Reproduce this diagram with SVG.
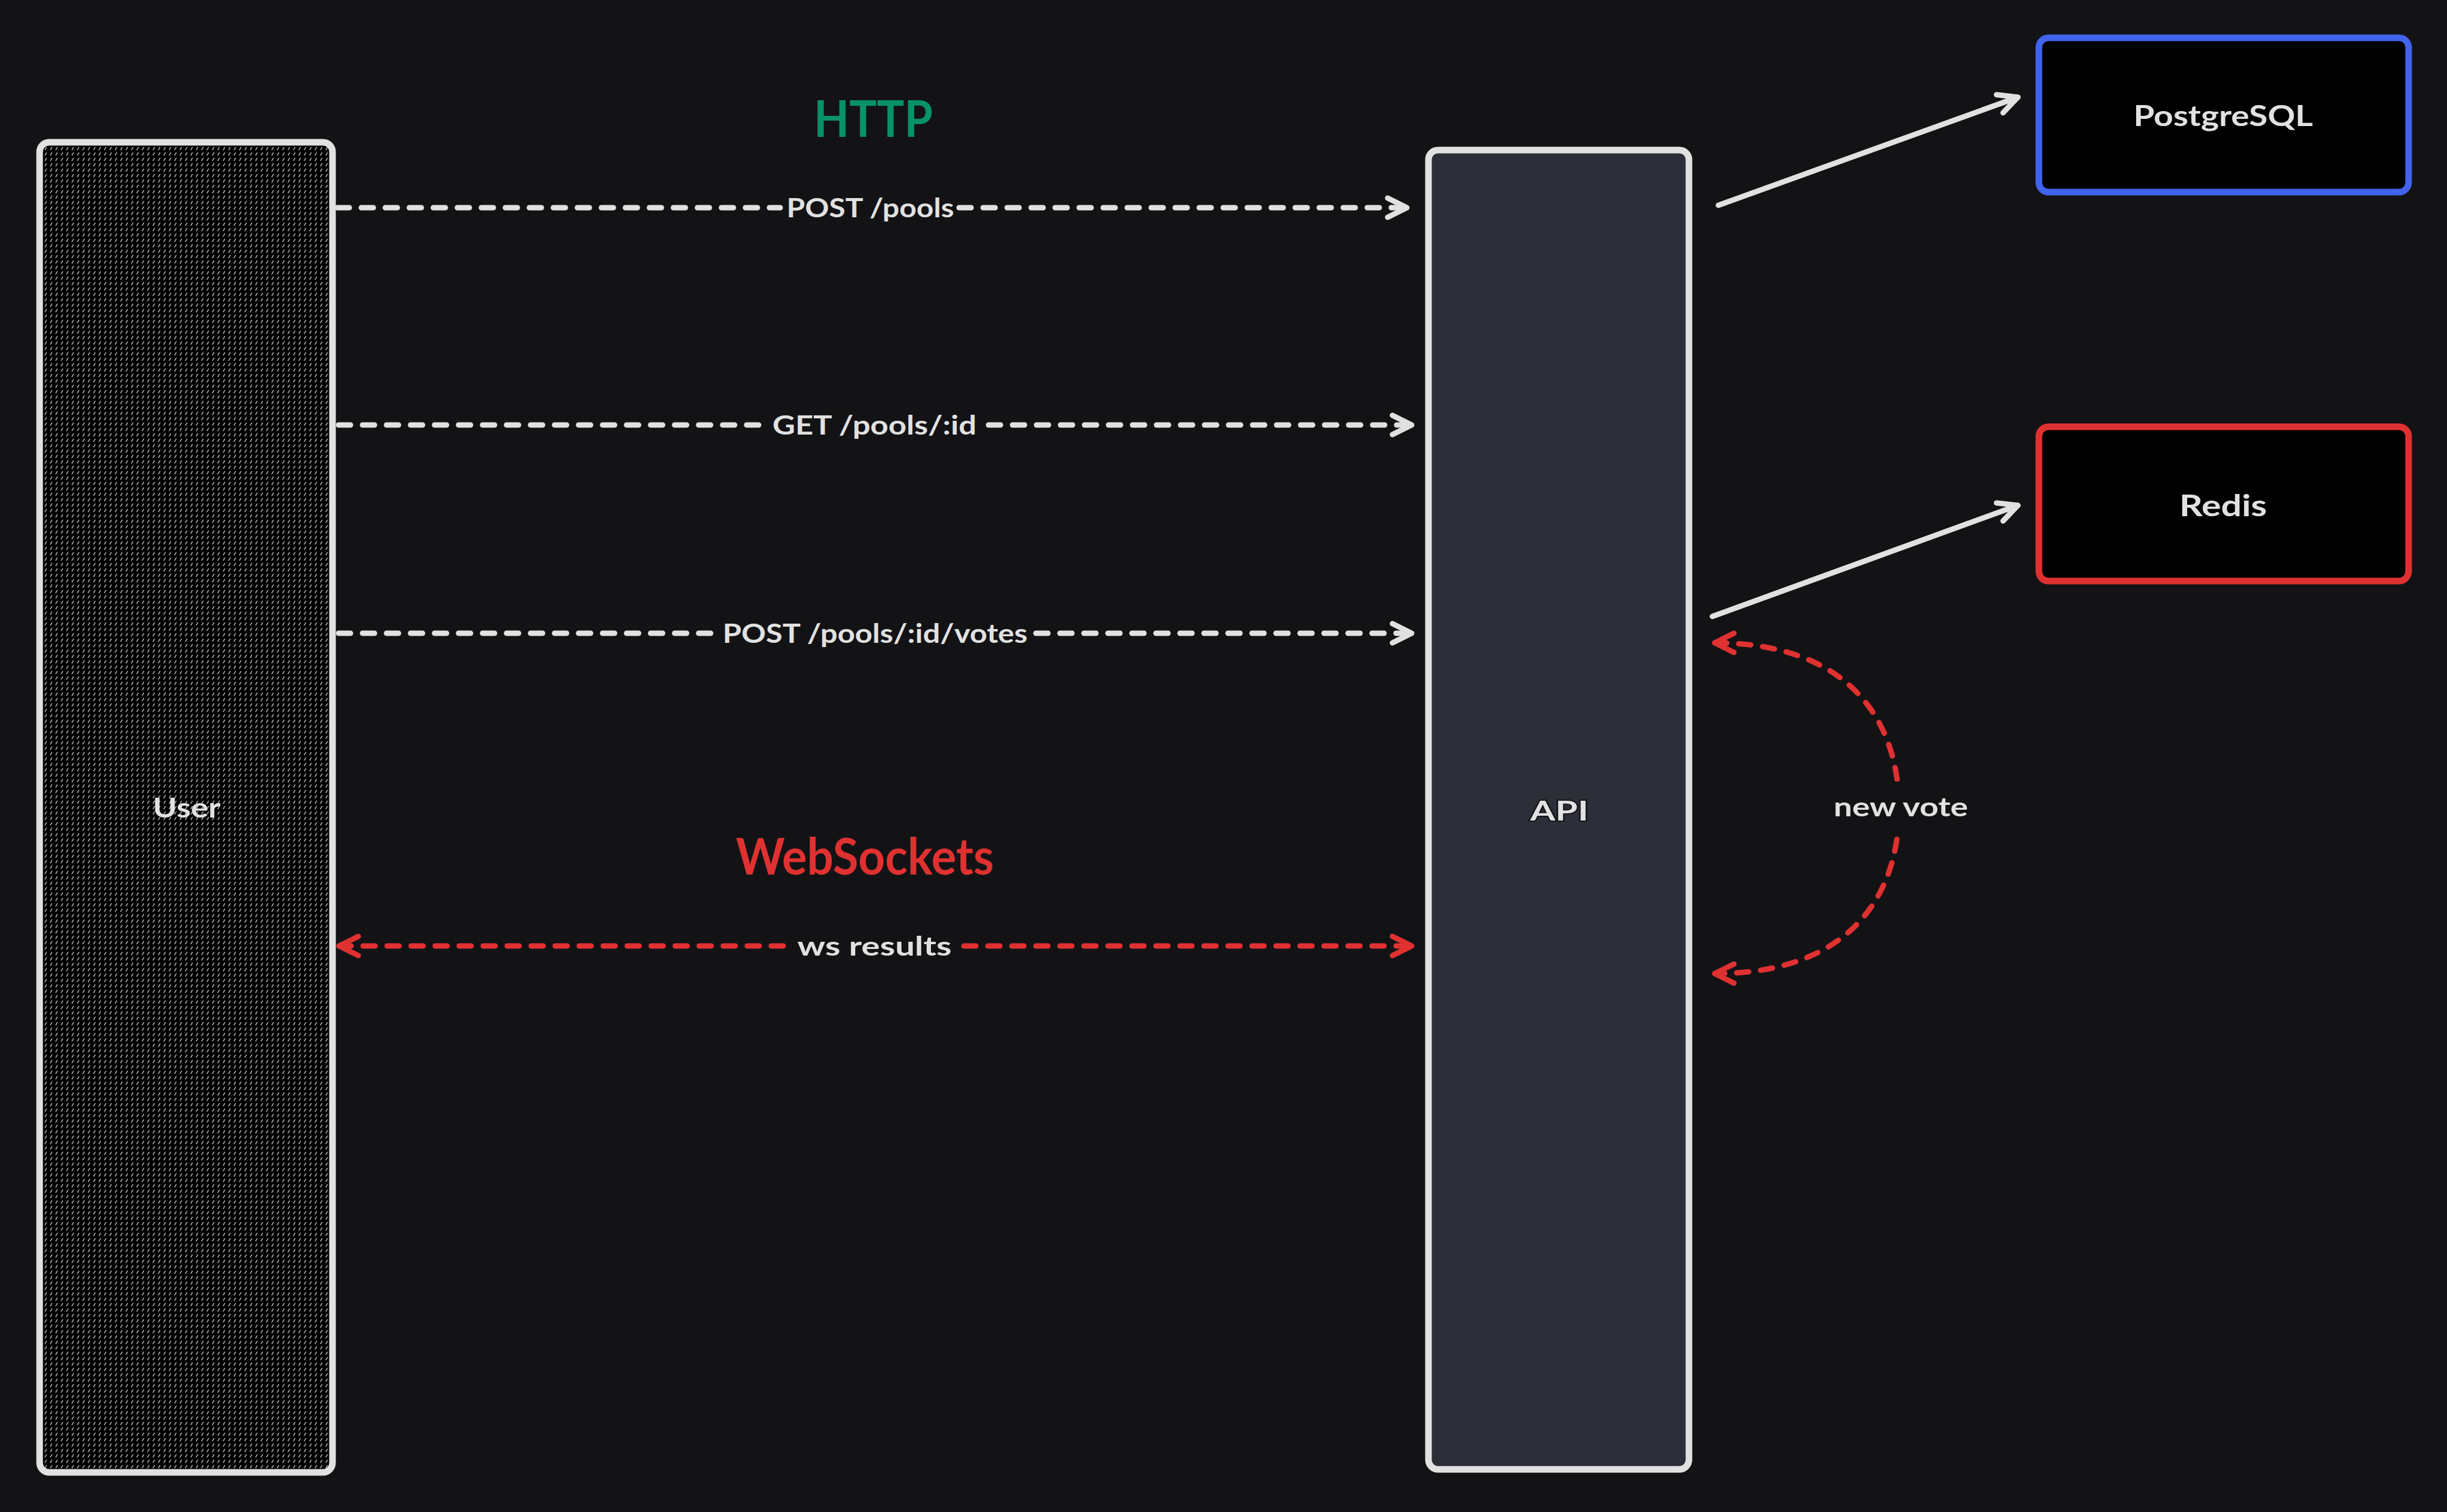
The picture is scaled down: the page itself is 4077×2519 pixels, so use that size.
<svg xmlns="http://www.w3.org/2000/svg" width="4077" height="2519" viewBox="0 0 4077 2519">
<style>
.lbl{font-family:Lato,"Liberation Sans",sans-serif;font-weight:700;fill:#e1e1e1;text-anchor:middle}
.box{stroke-width:11;stroke-linejoin:round}
.dash{fill:none;stroke-width:9;stroke-linecap:round;stroke-dasharray:20 20}
.solid{fill:none;stroke-width:9;stroke-linecap:round}
.w{stroke:#e1e1e1}
.r{stroke:#e03131}
</style>
<defs>
<pattern id="hatch" width="9" height="9" patternUnits="userSpaceOnUse">
<rect width="9" height="9" fill="#000"/>
<line x1="3" y1="6.5" x2="5.5" y2="2.5" stroke="#a8a8a8" stroke-width="1.6" stroke-linecap="round"/>
</pattern>
<marker id="aw" markerUnits="userSpaceOnUse" viewBox="-45 -25 50 50" markerWidth="50" markerHeight="50" refX="0" refY="0" orient="auto-start-reverse" overflow="visible">
<path d="M -32 -16 L 0 0 L -32 16" fill="none" stroke="#e1e1e1" stroke-width="9" stroke-linecap="round" stroke-linejoin="round"/>
</marker>
<marker id="ar" markerUnits="userSpaceOnUse" viewBox="-45 -25 50 50" markerWidth="50" markerHeight="50" refX="0" refY="0" orient="auto-start-reverse" overflow="visible">
<path d="M -32 -16 L 0 0 L -32 16" fill="none" stroke="#e03131" stroke-width="9" stroke-linecap="round" stroke-linejoin="round"/>
</marker>
<mask id="gap" maskUnits="userSpaceOnUse" x="0" y="0" width="4077" height="2519">
<rect width="4077" height="2519" fill="#fff"/>
<rect x="3040" y="1302" width="260" height="88" fill="#000"/>
</mask>
</defs>
<rect width="4077" height="2519" fill="#131316"/>

<g id="titles">
<text class="lbl" x="1455" y="228" font-size="84" textLength="198" lengthAdjust="spacingAndGlyphs" style="fill:#099268">HTTP</text>
<text class="lbl" x="1441" y="1457" font-size="84" textLength="430" lengthAdjust="spacingAndGlyphs" style="fill:#e03131">WebSockets</text>
</g>

<g id="user">
<rect class="box w" x="66" y="237" width="488" height="2216" rx="16" fill="url(#hatch)"/>
<text class="lbl" x="311" y="1362" font-size="45" textLength="113" lengthAdjust="spacingAndGlyphs">User</text>
</g>

<g id="api">
<rect class="box w" x="2380" y="250" width="434" height="2198" rx="16" fill="#2c2f38"/>
<text class="lbl" x="2598" y="1367" font-size="46" textLength="97" lengthAdjust="spacingAndGlyphs" stroke="#15161a" stroke-width="4" paint-order="stroke">API</text>
</g>

<g id="postgres">
<rect class="box" x="3397" y="63" width="616" height="257" rx="16" fill="#000" stroke="#4263eb"/>
<text class="lbl" x="3704" y="210" font-size="48" textLength="299" lengthAdjust="spacingAndGlyphs">PostgreSQL</text>
</g>

<g id="redis">
<rect class="box" x="3397" y="711" width="616" height="257" rx="16" fill="#000" stroke="#e03131"/>
<text class="lbl" x="3704" y="860" font-size="50" textLength="146" lengthAdjust="spacingAndGlyphs">Redis</text>
</g>

<g id="connectors">
<line class="dash w" x1="562" y1="346" x2="1300" y2="346"/>
<line class="dash w" x1="1598" y1="346" x2="2344" y2="346" marker-end="url(#aw)"/>
<text class="lbl" x="1450" y="362" font-size="44" textLength="279" lengthAdjust="spacingAndGlyphs">POST /pools</text>

<line class="dash w" x1="564" y1="708" x2="1266" y2="708"/>
<line class="dash w" x1="1647" y1="708" x2="2352" y2="708" marker-end="url(#aw)"/>
<text class="lbl" x="1457" y="724" font-size="44" textLength="340" lengthAdjust="spacingAndGlyphs">GET /pools/:id</text>

<line class="dash w" x1="564" y1="1055" x2="1191" y2="1055"/>
<line class="dash w" x1="1726" y1="1055" x2="2352" y2="1055" marker-end="url(#aw)"/>
<text class="lbl" x="1458" y="1071" font-size="44" textLength="508" lengthAdjust="spacingAndGlyphs">POST /pools/:id/votes</text>

<line class="dash r" x1="565" y1="1576" x2="1308" y2="1576" marker-start="url(#ar)"/>
<line class="dash r" x1="1606" y1="1576" x2="2352" y2="1576" marker-end="url(#ar)"/>
<text class="lbl" x="1457" y="1592" font-size="44" textLength="257" lengthAdjust="spacingAndGlyphs">ws results</text>

<line class="solid w" x1="2863" y1="342" x2="3362" y2="162" marker-end="url(#aw)"/>
<line class="solid w" x1="2853" y1="1027" x2="3362" y2="842" marker-end="url(#aw)"/>

<path class="dash r" d="M 2857 1071 C 3080 1071 3164 1200 3164 1347 C 3164 1494 3080 1622 2857 1622" mask="url(#gap)" marker-start="url(#ar)" marker-end="url(#ar)"/>
<text class="lbl" x="3167" y="1360" font-size="44" textLength="224" lengthAdjust="spacingAndGlyphs">new vote</text>
</g>
</svg>
